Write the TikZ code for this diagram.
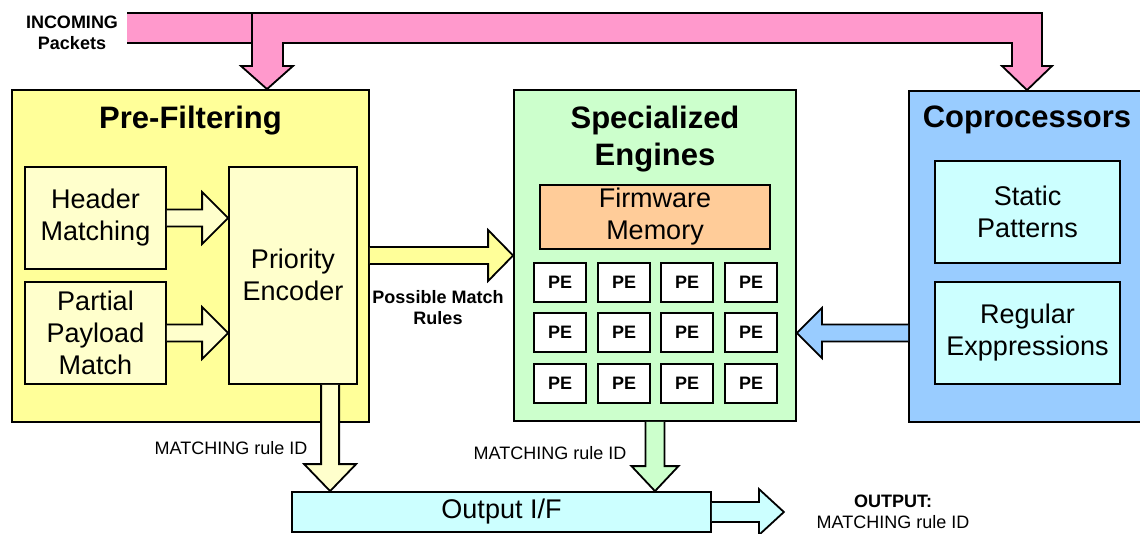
\documentclass[tikz,border=0pt]{standalone}
\usepackage{fontspec}
\setmainfont{Liberation Sans}
\usetikzlibrary{calc}
\definecolor{preY}{HTML}{FFFF99}
\definecolor{ltY}{HTML}{FFFFCC}
\definecolor{specG}{HTML}{CCFFCC}
\definecolor{fwO}{HTML}{FFCC99}
\definecolor{copB}{HTML}{99CCFF}
\definecolor{cyanL}{HTML}{CCFFFF}
\definecolor{pinkA}{HTML}{FF99CC}
\tikzset{
 box/.style={draw=black, line width=1.8pt, inner sep=0pt, align=center},
 ttl/.style={font=\fontsize{31}{37}\selectfont\bfseries, align=center},
 btxt/.style={font=\fontsize{27}{32}\selectfont},
 lbl/.style={font=\fontsize{18}{21}\selectfont, align=center},
 blbl/.style={font=\fontsize{18}{21}\selectfont\bfseries, align=center},
 pebox/.style={box, fill=white, minimum width=52pt, minimum height=39pt, font=\fontsize{18}{21}\selectfont\bfseries},
 blk/.style={draw=black, line width=1.8pt, line join=miter},
}
% horizontal block arrow: #1 start, #2 tip, #3 half shaft, #4 half head, #5 signed head length, #6 fill
\newcommand{\hblk}[6]{\filldraw[blk, fill=#6] ($(#1)+(0,#3)$) -- ($(#2)+({-(#5)},#3)$) -- ($(#2)+({-(#5)},#4)$) -- (#2) -- ($(#2)+({-(#5)},{-(#4)})$) -- ($(#2)+({-(#5)},{-(#3)})$) -- ($(#1)+(0,{-(#3)})$);}
% vertical (downward) block arrow
\newcommand{\vblk}[6]{\filldraw[blk, fill=#6] ($(#1)+(#3,0)$) -- ($(#2)+(#3,{-(#5)})$) -- ($(#2)+(#4,{-(#5)})$) -- (#2) -- ($(#2)+({-(#4)},{-(#5)})$) -- ($(#2)+({-(#3)},{-(#5)})$) -- ($(#1)+({-(#3)},0)$);}
\begin{document}
\begin{tikzpicture}[x=1pt,y=-1pt]
\useasboundingbox (0,0) rectangle (1140,533);
\clip (0,0) rectangle (1140,533);

% containers
\node[box, fill=preY, minimum width=357pt, minimum height=332pt] (pre) at (190.5,256) {};
\node[ttl] (pret) at (190.5,121) {Pre-Filtering};
\node[box, fill=specG, minimum width=282pt, minimum height=331pt] (spec) at (655,255.5) {};
\node[ttl] (spect) at (655,139.5) {Specialized\\Engines};
\node[box, fill=copB, minimum width=240pt, minimum height=331pt] (cop) at (1029,256.5) {};
\node[ttl] (copt) at (1027,120) {Coprocessors};

% inner boxes
\node[box, btxt, fill=ltY, minimum width=141pt, minimum height=102pt] (hdr) at (95.5,218) {Header\\Matching};
\node[box, btxt, fill=ltY, minimum width=141pt, minimum height=102pt] (par) at (95.5,333) {Partial\\Payload\\Match};
\node[box, fill=ltY, minimum width=128pt, minimum height=217pt] (pri) at (293,275.5) {};
\node[btxt, align=center] (prit) at (293,275) {Priority\\Encoder};
\node[box, btxt, fill=fwO, minimum width=230pt, minimum height=64pt] (fw) at (655,217) {Firmware\\Memory};
\foreach \r/\y in {1/282.5,2/332.5,3/383.5}{
  \foreach \c/\x in {1/560,2/624,3/687,4/751}{
    \node[pebox] (pe-\r-\c) at (\x,\y) {PE};
  }
}
\node[box, btxt, fill=cyanL, minimum width=185pt, minimum height=102pt] (stat) at (1027.5,212) {Static\\Patterns};
\node[box, btxt, fill=cyanL, minimum width=185pt, minimum height=102pt] (regx) at (1027.5,333) {Regular\\Exppressions};
\node[box, btxt, fill=cyanL, minimum width=419pt, minimum height=40pt] (out) at (501.5,512) {Output I/F};

% incoming packets
\coordinate (pin1) at ($(pre.north)+(76.5,0)$);
\coordinate (pin2) at ($(cop.north)+(-2,0)$);
\filldraw[blk, fill=pinkA] (127,13) -- (1042,13) -- (1042,66) -- (1052,66) -- (pin2) -- (1002,66) -- (1012,66) -- (1012,43) -- (283,43) -- (283,66) -- (293,66) -- (pin1) -- (241,66) -- (252,66) -- (252,43) -- (127,43);
\draw[blk] (252,13) -- (252,43);
\node[blbl] (inc) at (72,32.5) {INCOMING\\Packets};

% arrows inside pre-filtering
\hblk{hdr.east}{pri.west |- hdr.east}{8.5}{26}{26}{ltY}
\hblk{par.east}{pri.west |- par.east}{8.5}{26}{26}{ltY}
% pre-filtering -> specialized
\hblk{pre.east |- spec.west}{spec.west}{8.5}{25.5}{25}{preY}
\node[blbl] (pmr) at (438,307.5) {Possible Match\\Rules};
% coprocessors -> specialized
\hblk{cop.west |- regx.west}{spec.east |- regx.west}{8.5}{25}{-25}{copB}

% downward arrows into output
\coordinate (t1) at ($(out.north west)+(39,0)$);
\vblk{pri.south -| t1}{t1}{9}{26}{27}{ltY}
\node[lbl] (m1) at (231,448) {MATCHING rule ID};
\vblk{spec.south}{out.north -| spec.south}{9.5}{23.5}{25}{specG}
\node[lbl] (m2) at (550,453) {MATCHING rule ID};

% output arrow
\coordinate (otip) at ($(out.east)+(72,0)$);
\hblk{out.east}{otip}{10}{23}{25}{cyanL}
\node[lbl] (outl) at (893,512) {\textbf{OUTPUT:}\\MATCHING rule ID};
\end{tikzpicture}
\end{document}
